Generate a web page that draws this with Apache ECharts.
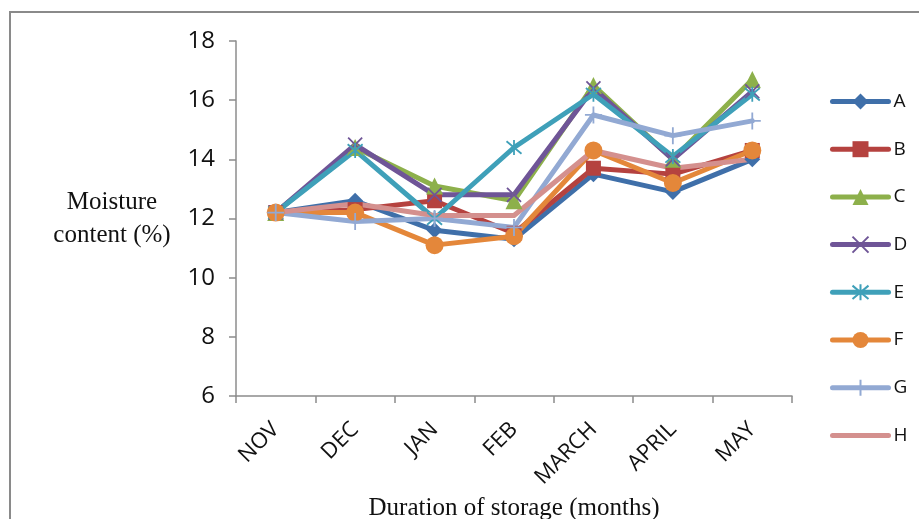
<!DOCTYPE html>
<html>
<head>
<meta charset="utf-8">
<script src="https://cdn.jsdelivr.net/npm/echarts@6/dist/echarts.min.js"></script>
<style>
  html, body { margin: 0; padding: 0; background: #fff; }
  #chart { width: 919px; height: 519px; }
</style>
</head>
<body>
<div id="chart"></div>
<script>
// Storage months on the category axis
const months = ['NOV', 'DEC', 'JAN', 'FEB', 'MARCH', 'APRIL', 'MAY'];

// Moisture content (%) per treatment
const seriesA = [12.2, 12.6, 11.6, 11.3, 13.5, 12.9, 14.0];
const seriesB = [12.2, 12.3, 12.6, 11.5, 13.7, 13.5, 14.3];
const seriesC = [12.2, 14.4, 13.1, 12.6, 16.5, 14.0, 16.7];
const seriesD = [12.2, 14.5, 12.8, 12.8, 16.4, 14.0, 16.3];
const seriesE = [12.2, 14.3, 12.0, 14.4, 16.2, 14.1, 16.2];
const seriesF = [12.2, 12.2, 11.1, 11.4, 14.3, 13.2, 14.3];
const seriesG = [12.2, 11.9, 12.0, 11.7, 15.5, 14.8, 15.3];
const seriesH = [12.2, 12.5, 12.1, 12.1, 14.3, 13.7, 14.0];

const yTicks = { min: 6, max: 18, interval: 2 };

const sans = '"Open Sans", "Liberation Sans", sans-serif';
const serif = '"Liberation Serif", "DejaVu Serif", serif';

const X_PATH = 'path://M0 0L10 10M10 0L0 10';
const STAR_PATH = 'path://M0 0L10 10M10 0L0 10M5 -1L5 11';
const PLUS_PATH = 'path://M5 0L5 10M0 5L10 5';

function line(name, data, color, symbol, size, stroked) {
  return {
    name: name,
    type: 'line',
    data: data,
    symbol: symbol,
    symbolSize: size,
    showAllSymbol: true,
    lineStyle: { color: color, width: 5, cap: 'round', join: 'round' },
    itemStyle: stroked
      ? { color: color, borderColor: color, borderWidth: 1.8 }
      : { color: color },
    emphasis: { disabled: true },
    animation: false
  };
}

const chart = echarts.init(document.getElementById('chart'));
chart.setOption({
  backgroundColor: '#ffffff',
  textStyle: { fontFamily: sans },
  graphic: [{
    type: 'rect',
    shape: { x: 10, y: 12, width: 1000, height: 1000 },
    style: { fill: 'none', stroke: '#8a8a8a', lineWidth: 2 },
    silent: true
  }],
  grid: { left: 236, top: 41, right: 127, bottom: 123, outerBoundsMode: 'none', containLabel: false },
  legend: {
    orient: 'vertical',
    left: 830,
    top: 92,
    padding: 0,
    itemWidth: 56,
    itemHeight: 20,
    itemGap: 28.7,
    lineStyle: { width: 5, cap: 'round' },
    textStyle: { fontFamily: sans, fontSize: 19, color: '#111' },
    data: ['A', 'B', 'C', 'D', 'E', 'F', 'G',
      { name: 'H', itemStyle: { color: 'rgba(0,0,0,0)', borderColor: 'rgba(0,0,0,0)' } }]
  },
  xAxis: {
    type: 'category',
    data: months,
    boundaryGap: true,
    name: 'Duration of storage (months)',
    nameLocation: 'middle',
    nameGap: 99,
    nameTextStyle: { fontFamily: serif, fontSize: 25, color: '#111' },
    axisLine: { lineStyle: { color: '#8c8c8c', width: 1.5 } },
    axisTick: { show: true, alignWithLabel: false, length: 7, lineStyle: { color: '#8c8c8c', width: 1.5 } },
    axisLabel: { rotate: 45, fontSize: 22, color: '#111', margin: 30, interval: 0 },
    splitLine: { show: false }
  },
  yAxis: {
    type: 'value',
    min: yTicks.min,
    max: yTicks.max,
    interval: yTicks.interval,
    name: 'Moisture\ncontent (%)',
    nameLocation: 'middle',
    nameRotate: 0,
    nameGap: 124,
    nameTextStyle: { fontFamily: serif, fontSize: 25, color: '#111', align: 'center', verticalAlign: 'middle', lineHeight: 33 },
    axisLine: { show: true, lineStyle: { color: '#8c8c8c', width: 1.5 } },
    axisTick: { show: true, length: 7, lineStyle: { color: '#8c8c8c', width: 1.5 } },
    axisLabel: { fontSize: 24, color: '#111', margin: 21 },
    splitLine: { show: false }
  },
  series: [
    line('A', seriesA, '#3f6fa9', 'diamond', 16, false),
    line('B', seriesB, '#b5423f', 'rect', 15, false),
    line('C', seriesC, '#8db04b', 'triangle', 17, false),
    line('D', seriesD, '#6f5597', X_PATH, 14, true),
    line('E', seriesE, '#3fa0b9', STAR_PATH, 15, true),
    line('F', seriesF, '#e4873a', 'circle', 18, false),
    line('G', seriesG, '#92a9d3', PLUS_PATH, 17, true),
    line('H', seriesH, '#d4908e', 'none', 0, false)
  ]
});
</script>
</body>
</html>
